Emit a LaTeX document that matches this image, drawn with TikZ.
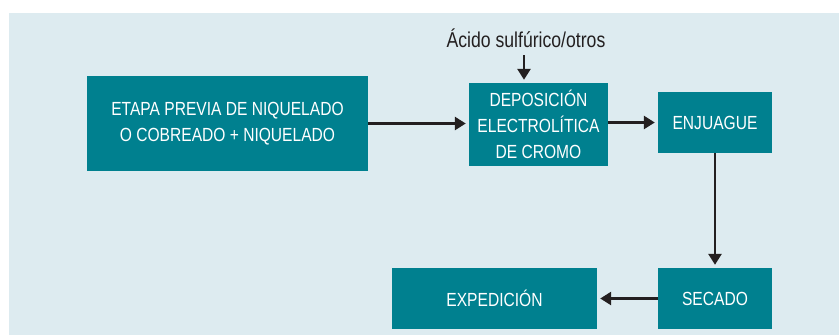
\documentclass[tikz,border=0pt]{standalone}
\usepackage{fontspec}
\setmainfont{Liberation Sans}[FakeStretch=0.82]
\usetikzlibrary{arrows.meta}
\definecolor{fondo}{RGB}{221,235,240}
\definecolor{petroleo}{RGB}{0,128,143}
\definecolor{flecha}{RGB}{35,31,32}
\begin{document}
\begin{tikzpicture}[x=1pt, y=-1pt,
    paso/.style={rectangle, fill=petroleo, text=white, align=center, inner sep=0pt,
      font=\fontsize{19}{26}\selectfont},
    flujo/.style={draw=flecha, line width=2.6pt, -{Triangle[length=11pt,width=13pt]}, shorten >=3pt}]
      \useasboundingbox (0,0) rectangle (839,335);
      \fill[fondo] (9,13) rectangle (839,335);
      \node (previa) at (227.5,123.5) [paso, minimum width=281pt, minimum height=95pt] {ETAPA PREVIA DE NIQUELADO\\O COBREADO + NIQUELADO};
      \node (cromo) at (538.5,124.5) [paso, minimum width=139pt, minimum height=83pt] {DEPOSICIÓN\\ELECTROLÍTICA\\DE CROMO};
      \node (enjuague) at (715,122.5) [paso, minimum width=114pt, minimum height=61pt] {ENJUAGUE};
      \node (secado) at (715,298.5) [paso, minimum width=114pt, minimum height=61pt] {SECADO};
      \node (expedicion) at (494.5,298.5) [paso, minimum width=205pt, minimum height=61pt] {EXPEDICIÓN};
      \node (acido) at (526,38) [inner sep=0pt, font=\fontsize{21.5}{26}\selectfont, text=flecha] {Ácido sulfúrico/otros};
      \coordinate (entrada) at (524,55);
      \path[flujo] (previa.east) -- (previa.east -| cromo.west);
      \path[flujo] (cromo.east |- enjuague.east) -- (enjuague.west);
      \path[flujo] (entrada) -- (entrada |- cromo.north);
      \foreach \source/\dest in {enjuague/secado, secado/expedicion}
        \path[flujo] (\source) -- (\dest);
    \end{tikzpicture}
\end{document}
